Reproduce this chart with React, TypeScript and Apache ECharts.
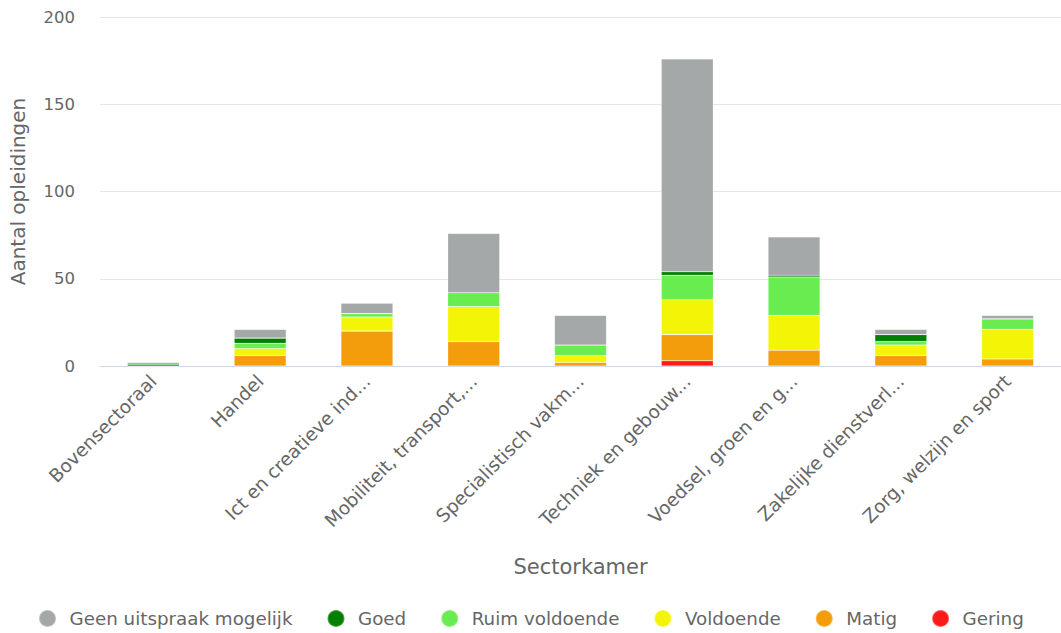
import React, { useEffect, useRef } from "react";
import * as echarts from "echarts";

const categories = [
  "Bovensectoraal",
  "Handel",
  "Ict en creatieve industrie",
  "Mobiliteit, transport, logistiek en maritiem",
  "Specialistisch vakmanschap",
  "Techniek en gebouwde omgeving",
  "Voedsel, groen en gastvrijheid",
  "Zakelijke dienstverlening en veiligheid",
  "Zorg, welzijn en sport",
];

const gering = [0, 0, 0, 0, 0, 3, 0, 0, 0];
const matig = [0, 6, 20, 14, 2, 15, 9, 6, 4];
const voldoende = [0, 4, 8, 20, 4, 20, 20, 6, 17];
const ruimVoldoende = [0, 3, 2, 8, 6, 14, 22, 2, 6];
const goed = [1, 3, 0, 0, 0, 2, 1, 4, 0];
const geenUitspraak = [1, 5, 6, 34, 17, 122, 22, 3, 2];

const yTicks = [0, 50, 100, 150, 200];

const FONT = "'DejaVu Sans', sans-serif";

export default function App() {
  const ref = useRef<HTMLDivElement>(null);
  useEffect(() => {
    if (!ref.current) return;
    const chart = echarts.init(ref.current, undefined, { renderer: "svg" });
    const mk = (name: string, data: number[], color: string) => ({
      name,
      type: "bar",
      stack: "total",
      data,
      barWidth: 52,
      itemStyle: { color, borderColor: "rgba(255,255,255,0.3)", borderWidth: 0.6 },
      emphasis: { disabled: true },
    });
    chart.setOption({
      animation: false,
      textStyle: { fontFamily: FONT },
      grid: { left: 99, right: -6, top: 17, bottom: 267, containLabel: false },
      legend: {
        bottom: 0,
        left: 33,
        icon: "circle",
        itemWidth: 34,
        itemHeight: 17,
        itemGap: 34,
        textStyle: { fontFamily: FONT, fontSize: 18.3, color: "#666" },
        data: [
          "Geen uitspraak mogelijk",
          "Goed",
          "Ruim voldoende",
          "Voldoende",
          "Matig",
          "Gering",
        ],
      },
      xAxis: {
        type: "category",
        data: categories,
        name: "Sectorkamer",
        nameLocation: "middle",
        nameGap: 190,
        nameTextStyle: { fontFamily: FONT, fontSize: 21, color: "#666" },
        axisLine: { lineStyle: { color: "#ccd6eb" } },
        axisTick: { show: false },
        axisLabel: {
          rotate: 45,
          interval: 0,
          fontFamily: FONT,
          fontSize: 18.5,
          color: "#666",
          margin: 12,
          width: 208,
          overflow: "truncate",
          ellipsis: "...",
        },
      },
      yAxis: {
        type: "value",
        min: yTicks[0],
        max: yTicks[yTicks.length - 1],
        interval: 50,
        name: "Aantal opleidingen",
        nameLocation: "middle",
        nameGap: 72,
        nameTextStyle: { fontFamily: FONT, fontSize: 20, color: "#666" },
        axisLabel: { fontFamily: FONT, fontSize: 16.5, color: "#666", margin: 25 },
        axisLine: { show: false },
        axisTick: { show: false },
        splitLine: { lineStyle: { color: "#e6e6e6" } },
      },
      series: [
        mk("Gering", gering, "#ff1a1a"),
        mk("Matig", matig, "#f39c0c"),
        mk("Voldoende", voldoende, "#f4f406"),
        mk("Ruim voldoende", ruimVoldoende, "#68ec50"),
        mk("Goed", goed, "#038003"),
        mk("Geen uitspraak mogelijk", geenUitspraak, "#a5a8a8"),
      ],
    });
    return () => chart.dispose();
  }, []);
  return <div ref={ref} style={{ width: 1061, height: 633, position: "absolute", left: 0, top: 0 }} />;
}
